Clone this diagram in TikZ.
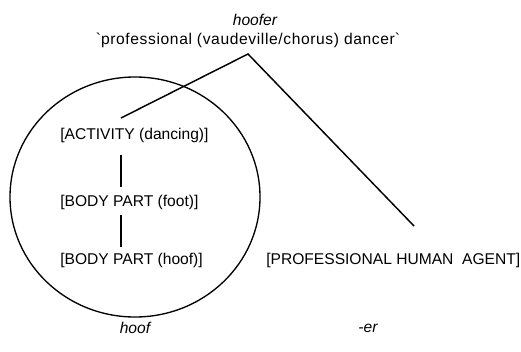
\documentclass[tikz,border=0pt]{standalone}
\usepackage{fontspec}
\setmainfont{Liberation Sans}
\begin{document}
\begin{tikzpicture}[x=0.75pt,y=-0.75pt,
  lbl/.style={inner sep=0pt,font=\fontsize{11.7pt}{14pt}\selectfont},
  ln/.style={line width=1.1pt},
  ring/.style={line width=1pt}]
\useasboundingbox (0,0) rectangle (521,351);
\draw[ring] (135,197) ellipse [x radius=125, y radius=120];
\node[lbl,font=\fontsize{11.7pt}{14pt}\selectfont\itshape] (hoofer) at (255,20) {hoofer};
\node[lbl,font=\fontsize{11.7pt}{14pt}\selectfont\addfontfeature{LetterSpace=4}] (gloss) at (248,40) {\textasciigrave professional (vaudeville/chorus) dancer\textasciigrave};
\node[lbl,anchor=west] (act) at (60,135) {[ACTIVITY (dancing)]};
\node[lbl,anchor=west] (foot) at (60,202) {[BODY PART (foot)]};
\node[lbl,anchor=west] (hoofn) at (60,260) {[BODY PART (hoof)]};
\node[lbl,anchor=west] (agent) at (266,260) {[PROFESSIONAL HUMAN\ \ AGENT]};
\node[lbl,font=\fontsize{11.7pt}{14pt}\selectfont\itshape] (hoof) at (135,328) {hoof};
\node[lbl,font=\fontsize{11.7pt}{14pt}\selectfont\itshape] (er) at (368,328) {-er};
\coordinate (apex) at (248,54);
\coordinate (lend) at (121,118);
\coordinate (rend) at (414,226);
\coordinate (v1a) at (121,155);
\coordinate (v1b) at (121,187);
\coordinate (v2a) at (121,215);
\coordinate (v2b) at (121,247);
\draw[ln] (lend) -- (apex) -- (rend);
\draw[ln] (v1a) -- (v1b);
\draw[ln] (v2a) -- (v2b);
\end{tikzpicture}
\end{document}
